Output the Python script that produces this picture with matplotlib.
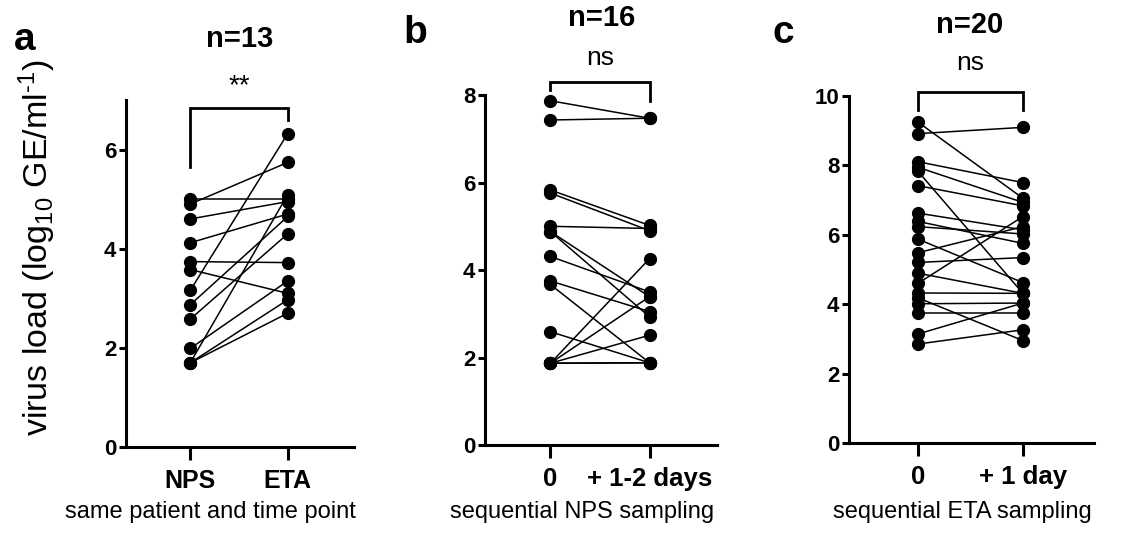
import numpy as np
import matplotlib
matplotlib.use("Agg")
import matplotlib.pyplot as plt

plt.rcParams['font.family'] = ['Liberation Sans', 'DejaVu Sans']
plt.rcParams['mathtext.fontset'] = 'custom'
plt.rcParams['mathtext.rm'] = 'Liberation Sans'
plt.rcParams['mathtext.it'] = 'Liberation Sans'
plt.rcParams['mathtext.default'] = 'regular'

# panel a: same patient, same time point
a_labels = ['NPS', 'ETA']
a_nps = [5.00, 4.90, 4.60, 4.12, 3.74, 3.58, 3.16, 2.87, 2.58, 1.99, 1.70, 1.70, 1.70]
a_eta = [5.00, 5.74, 4.95, 4.70, 3.72, 3.10, 6.32, 4.65, 4.30, 3.35, 5.09, 2.97, 2.70]

# panel b: sequential NPS sampling
b_labels = ['0', '+ 1-2 days']
b_day0 = [7.87, 7.43, 5.83, 5.76, 5.00, 4.88, 4.88, 4.31, 3.75, 3.67, 2.59, 1.87, 1.87, 1.87, 1.87, 1.87]
b_day1 = [7.47, 7.47, 5.02, 4.90, 4.95, 3.39, 2.93, 3.50, 3.05, 1.88, 1.88, 4.26, 3.39, 2.51, 1.88, 1.88]

# panel c: sequential ETA sampling
c_labels = ['0', '+ 1 day']
c_day0 = [9.24, 8.91, 8.10, 7.94, 7.82, 7.41, 6.62, 6.38, 6.23, 5.87,
          5.48, 5.20, 4.89, 4.60, 4.32, 4.18, 4.01, 3.74, 3.14, 2.85]
c_day1 = [7.05, 9.09, 7.50, 6.93, 4.31, 6.83, 6.14, 5.75, 6.02, 4.62,
          6.23, 5.34, 4.31, 6.52, 4.31, 2.95, 4.03, 3.74, 4.03, 3.26]

fig = plt.figure(figsize=(11.4, 5.52), dpi=100)


def paired(ax, pre, post, labels, ymax, yticks, xfs):
    for p, q in zip(pre, post):
        ax.plot([0, 1], [p, q], color='black', lw=1.1, marker='o', ms=8.5,
                mfc='black', mec='black', clip_on=False, zorder=3)
    ax.set_xlim(-0.66, 1.68)
    ax.set_ylim(0, ymax)
    ax.set_yticks(yticks)
    ax.set_xticks([0, 1])
    ax.set_xticklabels(labels, fontsize=xfs, fontweight='bold')
    for lab in ax.get_yticklabels():
        lab.set_fontweight('bold')
        lab.set_fontsize(16)
    for s in ['top', 'right']:
        ax.spines[s].set_visible(False)
    for s in ['left', 'bottom']:
        ax.spines[s].set_linewidth(2.2)
    ax.tick_params(axis='y', length=5, width=2.2, pad=2)
    ax.tick_params(axis='x', length=9, width=2.2, pad=7)


def bracket(ax, top, left_end, right_end, txt, txt_y, fs):
    ax.plot([0, 0, 1, 1], [left_end, top, top, right_end], color='black',
            lw=2.0, clip_on=False, solid_joinstyle='miter')
    ax.text(0.5, txt_y, txt, ha='center', va='center', fontsize=fs, clip_on=False)


axa = fig.add_axes([0.1105, 0.190, 0.200, 0.629])
paired(axa, a_nps, a_eta, a_labels, 7, [0, 2, 4, 6], 18)
bracket(axa, 6.83, 5.65, 6.6, '**', 7.28, 20)

axb = fig.add_axes([0.4254, 0.1938, 0.2035, 0.634])
paired(axb, b_day0, b_day1, b_labels, 8, [0, 2, 4, 6, 8], 18.5)
bracket(axb, 8.30, 8.11, 7.87, 'ns', 8.85, 19)

axc = fig.add_axes([0.7447, 0.1975, 0.215, 0.629])
paired(axc, c_day0, c_day1, c_labels, 10, [0, 2, 4, 6, 8, 10], 18.5)
bracket(axc, 10.12, 9.60, 9.60, 'ns', 10.95, 19)

# titles
fig.text(240 / 1140, 1 - 39 / 552, 'n=13', ha='center', va='center', fontsize=21, fontweight='bold')
fig.text(602 / 1140, 1 - 18 / 552, 'n=16', ha='center', va='center', fontsize=21, fontweight='bold')
fig.text(970 / 1140, 1 - 25 / 552, 'n=20', ha='center', va='center', fontsize=21, fontweight='bold')

# panel letters
fig.text(25 / 1140, 1 - 40 / 552, 'a', ha='center', va='center', fontsize=28, fontweight='bold')
fig.text(415 / 1140, 1 - 33 / 552, 'b', ha='center', va='center', fontsize=28, fontweight='bold')
fig.text(783 / 1140, 1 - 33 / 552, 'c', ha='center', va='center', fontsize=28, fontweight='bold')

# bottom captions
fig.text(210 / 1140, 1 - 512 / 552, 'same patient and time point', ha='center', va='center', fontsize=17)
fig.text(582 / 1140, 1 - 512 / 552, 'sequential NPS sampling', ha='center', va='center', fontsize=17)
fig.text(962 / 1140, 1 - 512 / 552, 'sequential ETA sampling', ha='center', va='center', fontsize=17)

# y label
fig.text(37 / 1140, 1 - 248 / 552, r'virus load (log$_{10}$ GE/ml$^{\text{-}1}$)', rotation=90,
         ha='center', va='center', fontsize=24.5)

fig.savefig('out.png', dpi=100)
